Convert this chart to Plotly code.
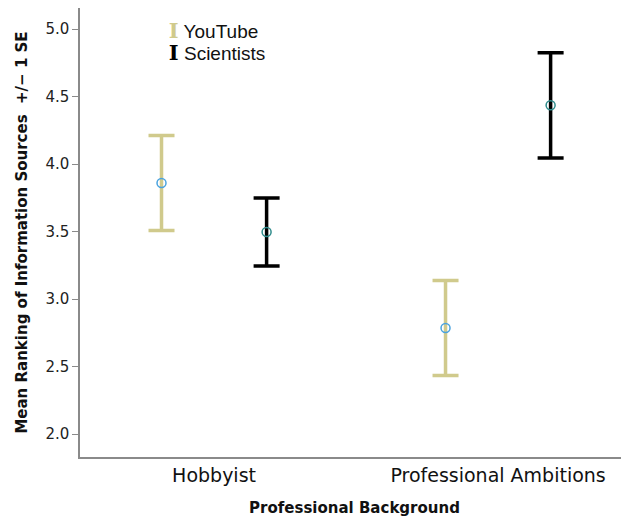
import plotly.graph_objects as go

categories = ["Hobbyist", "Professional Ambitions"]
youtube_mean = [3.86, 2.785]
youtube_se = [0.352, 0.352]
scientists_mean = [3.497, 4.435]
scientists_se = [0.252, 0.39]
y_ticks = [2.0, 2.5, 3.0, 3.5, 4.0, 4.5, 5.0]

YT_COLOR = "#d0ca8c"
SC_COLOR = "#000000"
FONT = "DejaVu Sans"


def legend_label(color, text):
    return (f"<b><span style='font-family:DejaVu Serif;font-size:21px;color:{color}'>I</span></b>"
            f" {text}")


fig = go.Figure()
fig.add_trace(go.Scatter(
    x=categories, y=youtube_mean, mode="markers", name="YouTube",
    offsetgroup="yt", showlegend=False,
    marker=dict(symbol="circle-open", size=9, color="#4aa3df", line=dict(width=1.5)),
    error_y=dict(type="data", array=youtube_se, color=YT_COLOR, thickness=3.5, width=13),
))
fig.add_trace(go.Scatter(
    x=categories, y=scientists_mean, mode="markers", name="Scientists",
    offsetgroup="sc", showlegend=False,
    marker=dict(symbol="circle-open", size=9, color="#2e8b8b", line=dict(width=1.5)),
    error_y=dict(type="data", array=scientists_se, color=SC_COLOR, thickness=3.5, width=13),
))
# legend entries (each in its own legend for exact placement)
fig.add_trace(go.Scatter(
    x=[None], y=[None], mode="markers", name=legend_label(YT_COLOR, "YouTube"),
    offsetgroup="yt", legend="legend",
    marker=dict(size=1, color="rgba(0,0,0,0)"),
))
fig.add_trace(go.Scatter(
    x=[None], y=[None], mode="markers", name=legend_label(SC_COLOR, "Scientists"),
    offsetgroup="sc", legend="legend2",
    marker=dict(size=1, color="rgba(0,0,0,0)"),
))

legend_common = dict(xanchor="left", yanchor="middle",
                     font=dict(size=19, color="#111", family="Liberation Sans"),
                     bgcolor="rgba(0,0,0,0)", itemwidth=30)

fig.update_layout(
    width=621, height=511,
    margin=dict(l=72, r=0, t=0, b=62),
    paper_bgcolor="white", plot_bgcolor="white",
    scattermode="group", scattergap=0.26,
    font=dict(family=FONT, color="#222"),
    legend=dict(x=0.089, y=0.949, **legend_common),
    legend2=dict(x=0.089, y=0.900, **legend_common),
    xaxis=dict(
        type="category", range=[-0.472, 1.461], automargin=False,
        showline=True, linecolor="#8a8a8a", linewidth=1.5,
        ticks="", showgrid=False, zeroline=False,
        tickfont=dict(size=19, color="#111"),
        title=dict(text="<b>Professional Background</b>", font=dict(size=15, color="#111"), standoff=18),
    ),
    yaxis=dict(
        range=[1.830, 5.156], tickvals=y_ticks, ticktext=[f"{v:.1f}" for v in y_ticks],
        automargin=False,
        showline=True, linecolor="#8a8a8a", linewidth=1.5,
        ticks="outside", ticklen=6, tickcolor="#8a8a8a", tickwidth=1,
        showgrid=False, zeroline=False,
        tickfont=dict(size=15, color="#222"),
        title=dict(text="<b>Mean Ranking of Information Sources  +/− 1 SE</b>",
                   font=dict(size=15, color="#111"), standoff=14),
    ),
)

fig.write_html("out.html")
